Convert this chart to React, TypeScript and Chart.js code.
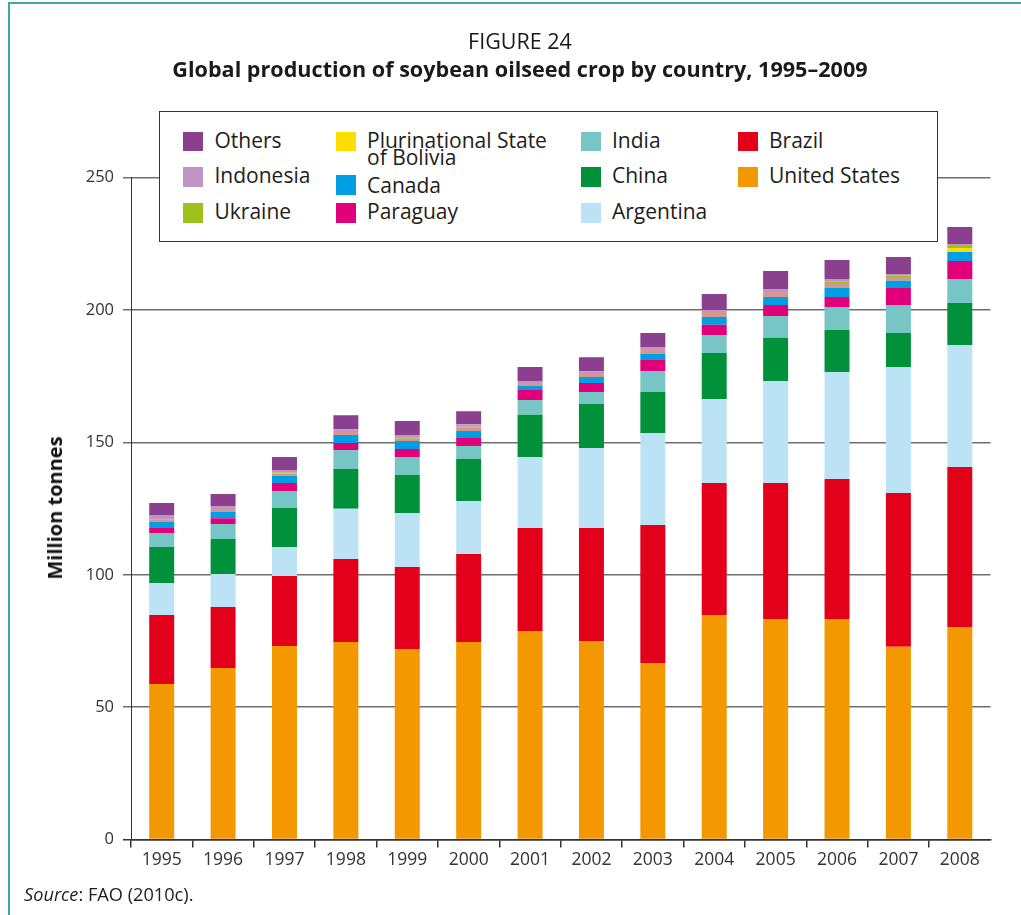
import React, { useEffect, useRef } from "react";
import { Chart, registerables } from "chart.js";

Chart.register(...registerables);

const years = ["1995", "1996", "1997", "1998", "1999", "2000", "2001", "2002", "2003", "2004", "2005", "2006", "2007", "2008"];
const yTicks = [0, 50, 100, 150, 200, 250];

const unitedStates = [58.8, 64.8, 73.1, 74.6, 72.0, 74.6, 78.8, 75.0, 66.7, 84.8, 83.3, 83.3, 72.8, 80.3];
const brazil = [26.0, 23.0, 26.4, 31.4, 30.9, 33.3, 38.9, 42.7, 52.1, 49.9, 51.4, 52.9, 58.1, 60.4];
const argentina = [12.1, 12.5, 11.0, 18.9, 20.4, 20.0, 26.8, 30.2, 34.7, 31.7, 38.5, 40.3, 47.6, 46.0];
const china = [13.6, 13.2, 14.7, 15.1, 14.4, 15.8, 15.9, 16.6, 15.5, 17.4, 16.3, 15.9, 12.8, 15.9];
const india = [5.3, 5.7, 6.4, 7.1, 6.8, 4.9, 5.6, 4.5, 7.9, 6.8, 8.2, 8.7, 10.6, 9.1];
const paraguay = [1.9, 2.2, 3.1, 2.7, 3.0, 3.1, 3.8, 3.4, 4.2, 3.8, 4.2, 3.8, 6.4, 6.8];
const canada = [2.2, 2.3, 2.6, 3.0, 3.0, 2.6, 1.5, 2.3, 2.3, 3.0, 3.0, 3.4, 2.7, 3.4];
const bolivia = [1.1, 0.8, 1.0, 1.1, 0.9, 1.2, 1.1, 1.5, 1.9, 1.8, 1.9, 1.9, 1.5, 1.5];
const ukraine = [0, 0, 0.3, 0, 0.5, 0.4, 0, 0, 0, 0, 0.4, 0.7, 0.6, 0.8];
const indonesia = [1.6, 1.5, 1.0, 1.1, 0.9, 1.0, 0.8, 0.7, 0.7, 0.8, 0.7, 0.8, 0.5, 0.7];
const others = [4.5, 4.5, 4.9, 5.3, 5.3, 4.9, 5.3, 5.3, 5.3, 6.0, 6.8, 7.2, 6.4, 6.4];

const C = {
  us: "#F39800",
  brazil: "#E2001A",
  argentina: "#BCE3F5",
  china: "#00913A",
  india: "#78C5C5",
  paraguay: "#E2007A",
  canada: "#009FE3",
  bolivia: "#FFDD00",
  boliviaOld: "#D9968F",
  ukraine: "#9DC01C",
  indonesia: "#C095C4",
  others: "#8B3F8F",
};

const FONT = "'Open Sans', 'Noto Sans', sans-serif";

type LegendItem = { label: string[]; color: string; sx: number; sy: number; tx: number; ty: number };
const legendItems: LegendItem[] = [
  { label: ["Others"], color: C.others, sx: 183, sy: 131.7, tx: 214.5, ty: 129.5 },
  { label: ["Indonesia"], color: C.indonesia, sx: 183, sy: 167.4, tx: 214.5, ty: 165.2 },
  { label: ["Ukraine"], color: C.ukraine, sx: 183, sy: 203.1, tx: 214.5, ty: 200.9 },
  { label: ["Plurinational State", "of Bolivia"], color: C.bolivia, sx: 336, sy: 131.7, tx: 367, ty: 129.5 },
  { label: ["Canada"], color: C.canada, sx: 336, sy: 175.3, tx: 367, ty: 174.5 },
  { label: ["Paraguay"], color: C.paraguay, sx: 336, sy: 203.1, tx: 367, ty: 200.9 },
  { label: ["India"], color: C.india, sx: 581, sy: 131.7, tx: 612, ty: 129.5 },
  { label: ["China"], color: C.china, sx: 581, sy: 167.4, tx: 612, ty: 165.2 },
  { label: ["Argentina"], color: C.argentina, sx: 581, sy: 203.1, tx: 612, ty: 200.9 },
  { label: ["Brazil"], color: C.brazil, sx: 737.5, sy: 131.7, tx: 769, ty: 129.5 },
  { label: ["United States"], color: C.us, sx: 737.5, sy: 167.4, tx: 769, ty: 165.2 },
];

export default function App() {
  const ref = useRef<HTMLCanvasElement | null>(null);

  useEffect(() => {
    if (!ref.current) return;
    const boliviaColors = years.map((y) => (y === "2008" ? C.bolivia : C.boliviaOld));
    const mk = (label: string, data: number[], color: string | string[]) => ({
      label,
      data,
      backgroundColor: color,
      borderWidth: 0,
      barPercentage: 0.407,
      categoryPercentage: 1,
    });
    const chart = new Chart(ref.current, {
      type: "bar",
      data: {
        labels: years,
        datasets: [
          mk("United States", unitedStates, C.us),
          mk("Brazil", brazil, C.brazil),
          mk("Argentina", argentina, C.argentina),
          mk("China", china, C.china),
          mk("India", india, C.india),
          mk("Paraguay", paraguay, C.paraguay),
          mk("Canada", canada, C.canada),
          mk("Plurinational State of Bolivia", bolivia, boliviaColors),
          mk("Ukraine", ukraine, C.ukraine),
          mk("Indonesia", indonesia, C.indonesia),
          mk("Others", others, C.others),
        ],
      },
      options: {
        responsive: false,
        maintainAspectRatio: false,
        animation: false,
        layout: { padding: { left: 0, top: 177.6, right: 30.5, bottom: 0 } },
        plugins: { legend: { display: false }, tooltip: { enabled: false }, title: { display: false } },
        scales: {
          x: {
            stacked: true,
            offset: true,
            afterFit: (s: any) => {
              s.height = 915 - 839.6;
            },
            grid: {
              drawOnChartArea: false,
              offset: true,
              drawTicks: true,
              tickLength: 8,
              lineWidth: 1.5,
              tickColor: (ctx: any) => (ctx.type === "tick" ? "#333" : "rgba(0,0,0,0)"),
              color: "#333",
            },
            border: { display: true, color: "#333", width: 1.5 },
            ticks: {
              color: "#333",
              font: { family: FONT, size: 17.5 },
              padding: 2,
              maxRotation: 0,
              autoSkip: false,
            },
          },
          y: {
            stacked: true,
            min: 0,
            max: 250,
            afterFit: (s: any) => {
              s.width = 131;
            },
            afterBuildTicks: (s: any) => {
              s.ticks = yTicks.map((v) => ({ value: v }));
            },
            grid: {
              color: (ctx: any) => (ctx.tick && ctx.tick.value === 0 ? "#333" : "#6e6e6e"),
              lineWidth: 1.5,
              drawTicks: true,
              tickLength: 8,
            },
            border: { display: true, color: "#333", width: 1 },
            ticks: {
              color: "#333",
              font: { family: FONT, size: 16.5 },
              padding: 9,
            },
          },
        },
      },
    });
    return () => chart.destroy();
  }, []);

  return (
    <div style={{ position: "absolute", left: 0, top: 0, width: 1021, height: 915, overflow: "hidden", background: "#fff", fontFamily: FONT }}>
      <div style={{ position: "absolute", left: 7.5, top: 2, width: 1030, height: 1000, borderLeft: "2px solid #3BA9A4", borderTop: "2px solid #3BA9A4", boxSizing: "border-box" }} />
      <canvas ref={ref} width={1021} height={915} style={{ position: "absolute", left: 0, top: 0, width: 1021, height: 915 }} />
      <div style={{ position: "absolute", left: 0, width: 1040, top: 28, textAlign: "center", fontSize: 21.5, lineHeight: "26px", color: "#1a1a1a" }}>FIGURE 24</div>
      <div style={{ position: "absolute", left: 0, width: 1040, top: 56, textAlign: "center", fontSize: 21.6, lineHeight: "26px", fontWeight: 700, color: "#1a1a1a" }}>
        Global production of soybean oilseed crop by country, 1995–2009
      </div>
      <div style={{ position: "absolute", left: 158.5, top: 110.5, width: 779, height: 131, border: "1.5px solid #333", background: "#fff", boxSizing: "border-box" }} />
      {legendItems.map((it) => (
        <React.Fragment key={it.label.join(" ")}>
          <div style={{ position: "absolute", left: it.sx, top: it.sy, width: 20, height: 19.5, background: it.color }} />
          {it.label.map((line, i) => (
            <div key={line} style={{ position: "absolute", left: it.tx, top: it.ty + i * 17, fontSize: 21, lineHeight: "21px", color: "#1d1d1b", whiteSpace: "nowrap" }}>
              {line}
            </div>
          ))}
        </React.Fragment>
      ))}
      <div style={{ position: "absolute", left: 54.7, top: 508, transform: "translate(-50%, -50%) rotate(-90deg)", fontSize: 20, fontWeight: 700, lineHeight: "24px", color: "#111", whiteSpace: "nowrap" }}>
        Million tonnes
      </div>
      <div style={{ position: "absolute", left: 24, top: 883, fontSize: 18.2, lineHeight: "22px", color: "#1d1d1b", whiteSpace: "nowrap" }}>
        <i>Source</i>: FAO (2010c).
      </div>
    </div>
  );
}
